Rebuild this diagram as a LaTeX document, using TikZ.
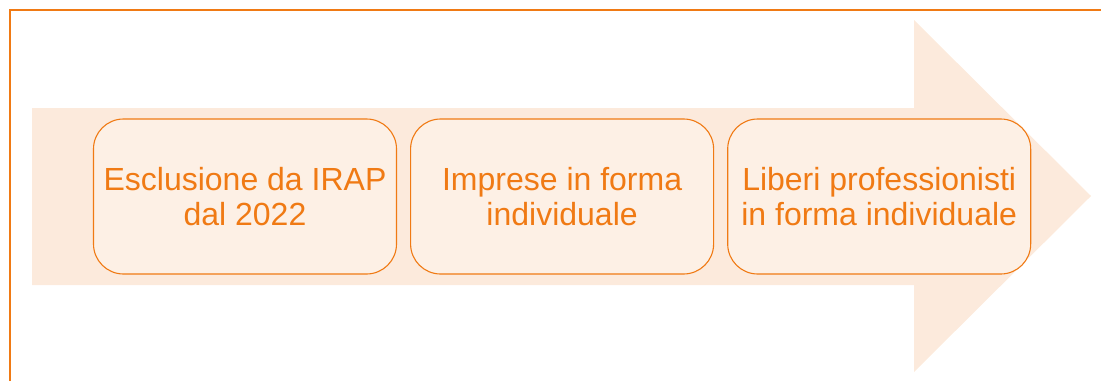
\documentclass[tikz,border=0pt]{standalone}
\usepackage{fontspec}
\setmainfont{Liberation Sans}
\usepackage{xcolor}
\usetikzlibrary{positioning}

\definecolor{irapOrange}{HTML}{F07A14}
\definecolor{arrowFill}{HTML}{FCEADC}
\definecolor{boxFill}{HTML}{FDF0E5}

\begin{document}
\begin{tikzpicture}[x=1pt, y=-1pt]
    \useasboundingbox (0,0) rectangle (1101,381);

    % Style for nodes
    \tikzset{
        stepbox/.style={rectangle, rounded corners=30pt, draw=irapOrange, fill=boxFill, line width=1.1pt,
            minimum width=303pt, minimum height=155pt, inner sep=0pt, align=center,
            text=irapOrange, font=\fontsize{32}{35}\selectfont}
    }

    % --- FRAME ---
    \draw[irapOrange, line width=1.3pt] (10,381) -- (10,10) -- (1101,10);

    % --- BIG ARROW ---
    \fill[arrowFill] (32,108) -- (914,108) -- (914,20) -- (1091,196)
        -- (914,372) -- (914,285) -- (32,285) -- cycle;

    % --- BOXES ---
    \node[stepbox] (excl) at (245,196.5) {Esclusione da IRAP\\dal 2022};
    \node[stepbox, right=13pt of excl] (impr) {Imprese in forma\\individuale};
    \node[stepbox, right=13pt of impr] (prof) {Liberi professionisti\\in forma individuale};

\end{tikzpicture}
\end{document}
